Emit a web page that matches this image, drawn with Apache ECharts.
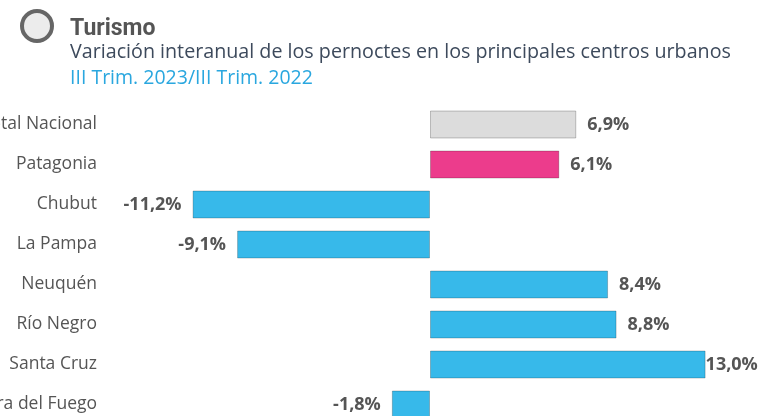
<!DOCTYPE html>
<html>
<head>
<meta charset="utf-8">
<script src="https://cdn.jsdelivr.net/npm/echarts@6/dist/echarts.min.js"></script>
<style>
	html, body { margin: 0; padding: 0; background: #fff; }
	#chart { width: 760px; height: 416px; }
</style>
</head>
<body>
<div id="chart"></div>
<script>
// datos
var regiones = ['Total Nacional', 'Patagonia', 'Chubut', 'La Pampa', 'Neuquén', 'Río Negro', 'Santa Cruz', 'Tierra del Fuego'];
var variacion = [6.9, 6.1, -11.2, -9.1, 8.4, 8.8, 13.0, -1.8];

var titulo = 'Turismo';
var subtitulo = 'Variación interanual de los pernoctes en los principales centros urbanos';
var periodo = 'III Trim. 2023/III Trim. 2022';

function fmt(v) {
	return v.toFixed(1).replace('.', ',') + '%';
}

var myChart = echarts.init(document.getElementById('chart'));

var barData = variacion.map(function(v, i) {
	var color = '#37b9ea';
	if(i == 0) color = '#dcdcdc';
	if(i == 1) color = '#ec3c8c';
	return {
		value: v,
		itemStyle: { color: color },
		label: {
			position: v < 0 ? 'left' : 'right',
			distance: i == 6 ? 0 : 11
		}
	};
});

var option = {
	animation: false,
	grid: {
		left: 112,
		width: 636,
		top: 104.5,
		height: 320,
		containLabel: false,
		outerBoundsMode: 'none'
	},
	xAxis: {
		type: 'value',
		min: -15,
		max: 15,
		axisLabel: { show: false },
		axisLine: { show: false },
		axisTick: { show: false },
		splitLine: { show: false }
	},
	yAxis: {
		type: 'category',
		inverse: true,
		data: regiones,
		axisLine: { show: false },
		axisTick: { show: false },
		axisLabel: {
			margin: 15,
			color: '#555',
			fontFamily: 'Open Sans',
			fontSize: 17.5
		}
	},
	series: [{
		type: 'bar',
		data: barData,
		barWidth: 28,
		itemStyle: {
			borderColor: 'rgba(0,0,0,0.22)',
			borderWidth: 1
		},
		label: {
			show: true,
			color: '#555',
			fontFamily: 'Open Sans',
			fontWeight: 'bold',
			fontSize: 18,
			formatter: function(p) { return fmt(p.value); }
		}
	}],
	graphic: [{
		type: 'circle',
		shape: { cx: 37, cy: 26, r: 15 },
		style: { fill: '#ececec', stroke: '#666', lineWidth: 4 }
	}, {
		type: 'text',
		left: 70, top: 18,
		style: { text: titulo, fill: '#555', font: 'bold 23px Roboto' }
	}, {
		type: 'text',
		left: 70, top: 42.5,
		style: { text: subtitulo, fill: '#3d4a5c', font: '19.7px "Open Sans"' }
	}, {
		type: 'text',
		left: 70, top: 68.5,
		style: { text: periodo, fill: '#2aa7df', font: '19.5px "Open Sans"' }
	}]
};

myChart.setOption(option);
</script>
</body>
</html>
